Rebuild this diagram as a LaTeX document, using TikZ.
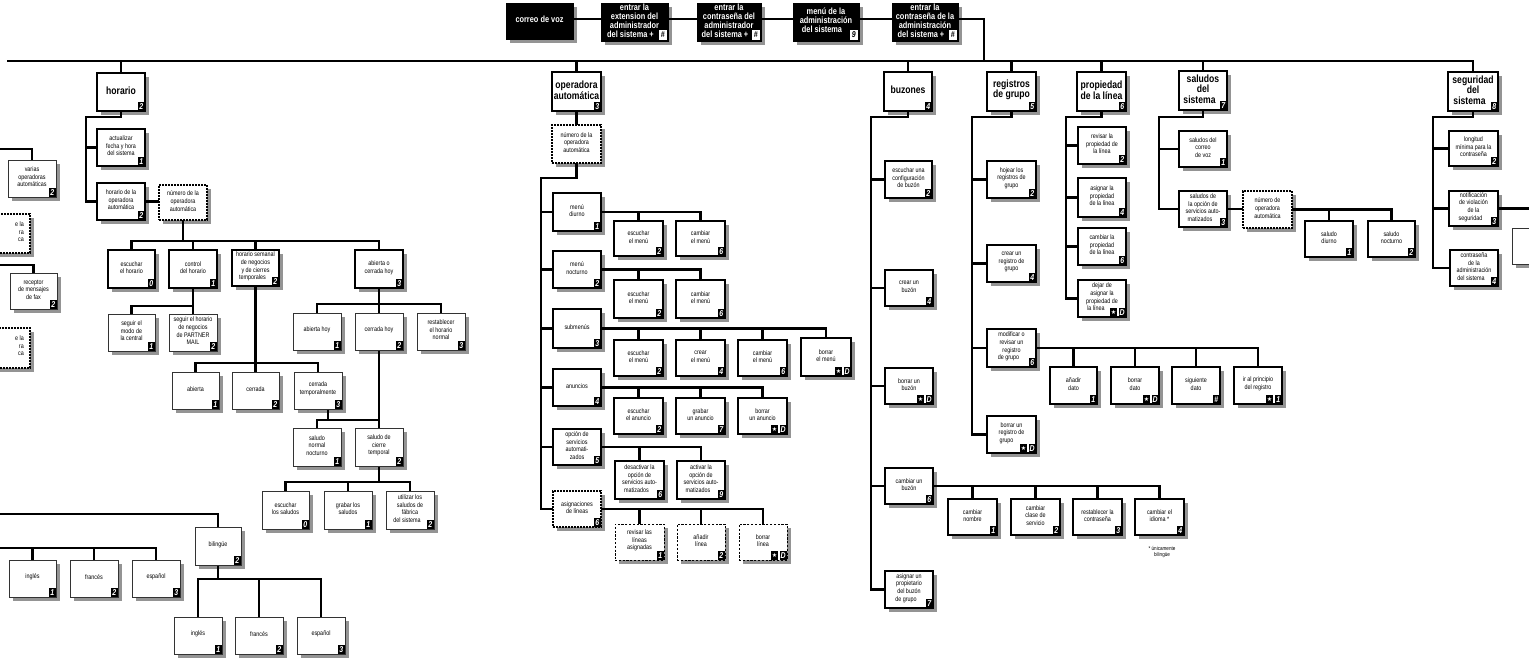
\documentclass[tikz,border=0pt]{standalone}
\usepackage{fontspec}
\setmainfont[FakeStretch=0.82]{Liberation Sans}
\newfontfamily\symf{DejaVu Sans}
\pgfdeclarelayer{bg}
\pgfdeclarelayer{shadow}
\pgfdeclarelayer{conn}
\pgfsetlayers{bg,shadow,conn,main}
\newcommand\starg{{\symf\mdseries\upshape\fontsize{6}{6}\selectfont ★}}
\tikzset{
 conn/.style={line width=2.7},
 shd/.style={fill=black!42},
 bxbase/.style={rectangle, inner sep=0, outer sep=0, fill=white},
 lvtwo/.style={bxbase, draw, line width=2.6},
 lvthree/.style={bxbase, draw, line width=2},
 lvfour/.style={bxbase, draw, line width=1.1},
 lvfive/.style={bxbase, draw=black!80, line width=0.9},
 dotk/.style={bxbase, draw, line width=1.8, dash pattern=on 1.6pt off 1.4pt},
 dthin/.style={bxbase, draw, line width=0.8, dash pattern=on 2.2pt off 1.6pt},
 topb/.style={bxbase, fill=black, draw=black, line width=1},
 tsm/.style={inner sep=0, align=center, font=\fontsize{6.6}{7.6}\selectfont},
 tl2/.style={inner sep=0, align=center, font=\bfseries\fontsize{10.5}{10.5}\selectfont},
 ttop/.style={inner sep=0, align=center, text=white, font=\bfseries\fontsize{9}{8.9}\selectfont},
 badge/.style={fill=black, text=white, inner sep=0, outer sep=0, minimum width=7.5, minimum height=9.5, font=\bfseries\itshape\fontsize{8.5}{8.5}\selectfont},
 wbadge/.style={badge, fill=white, text=black},
}
\newcommand\mkbox[9][tsm]{%
 \begin{pgfonlayer}{shadow}\fill[shd] (#4+4,#5+4) rectangle (#6+4,#7+4);\end{pgfonlayer}%
 \node[#3, minimum width={#6-(#4)}, minimum height={#7-(#5)}] (#2) at ({(#4+#6)/2},{(#5+#7)/2}) {};%
 \node[#1] (#2-t) at ([yshift=1.5]#2.center) {#8};%
 \def\curn{#2}#9}
\newcommand\bdg[1]{\node[badge,anchor=south east] (\curn-b) at (\curn.south east) {#1};}
\newcommand\bdgw[1]{\node[wbadge,anchor=south east] (\curn-b) at ([xshift=-1.5,yshift=1.5]\curn.south east) {#1};}
\newcommand\bdgg[2]{\node[badge,anchor=south east] (\curn-b) at (\curn.south east) {#2};\node[badge,anchor=south east] (\curn-a) at ([xshift=-1.3]\curn-b.south west) {#1};}
\newcommand\mytree[3]{\foreach \ch in {#3}{\draw[conn] (#1.south) |- (\ch.north |- 0,#2) -- (\ch.north);}}
\newcommand\myrow[2]{\foreach \ch in {#2}{\draw[conn] (#1.east) -| (\ch.north);}}
\newcommand\myspine[4]{\foreach \ch in {#4}{\draw[conn] (#1.south) |- (#2,#3) |- (\ch.west);}}
\begin{document}
\begin{tikzpicture}[x=1pt,y=-1pt]
\useasboundingbox (0,0) rectangle (1529,664);
\begin{pgfonlayer}{bg}\fill[white] (0,0) rectangle (1529,664);\end{pgfonlayer}
% top row
\mkbox[ttop]{T1}{topb}{506}{3}{573}{39}{correo de voz}{}
\mkbox[ttop]{T2}{topb}{601}{3}{668}{41}{entrar la\\extension del\\administrador\\del sistema +\rule{8pt}{0pt}}{\bdgw{\#}}
\mkbox[ttop]{T3}{topb}{697}{3}{761}{41}{entrar la\\contraseña del\\administrador\\del sistema +\rule{8pt}{0pt}}{\bdgw{\#}}
\mkbox[ttop]{T4}{topb}{793}{3}{859}{41}{menú de la\\administración\\del sistema\rule{8pt}{0pt}}{\bdgw{9}}
\mkbox[ttop]{T5}{topb}{892}{3}{958}{41}{entrar la\\contraseña de la\\administración\\del sistema +\rule{8pt}{0pt}}{\bdgw{\#}}
\coordinate (busJ) at (984,61);
\coordinate (busL) at (7,61);
% level 2
\mkbox[tl2]{H}{lvtwo}{97}{73}{145}{111}{horario}{\bdg{2}}
\mkbox[tl2]{OA}{lvtwo}{552}{72}{601}{111}{operadora\\automática}{\bdg{3}}
\mkbox[tl2]{BZ}{lvtwo}{884}{72}{932}{111}{buzones}{\bdg{4}}
\mkbox[tl2]{RG}{lvtwo}{987}{72}{1036}{111}{registros\\de grupo}{\bdg{5}}
\mkbox[tl2]{PL}{lvtwo}{1077}{72}{1126}{111}{propiedad\\de la línea}{\bdg{6}}
\mkbox[tl2]{SS}{lvtwo}{1179}{71}{1227}{110}{saludos\\del\\sistema\rule{7pt}{0pt}}{\bdg{7}}
\mkbox[tl2]{SG}{lvtwo}{1448}{72}{1498}{111}{seguridad\\del\\sistema\rule{7pt}{0pt}}{\bdg{8}}
% horario branch
\mkbox{H1}{lvthree}{97}{129}{145}{166}{actualizar\\fecha y hora\\del sistema}{\bdg{1}}
\mkbox{H2}{lvthree}{97}{183}{145}{220}{horario de la\\operadora\\automática}{\bdg{2}}
\mkbox{HN}{dotk}{159}{185}{207}{220}{número de la\\operadora\\automática}{}
\mkbox{C0}{lvfour}{108}{250}{155}{288}{escuchar\\el horario}{\bdg{0}}
\mkbox{C1}{lvfour}{169}{250}{217}{288}{control\\del horario}{\bdg{1}}
\mkbox{C2}{lvfour}{232}{250}{279}{286}{horario semanal\\de negocios\\y de cierres\\temporales\rule{6pt}{0pt}}{\bdg{2}}
\mkbox{C3}{lvfour}{355}{250}{403}{288}{abierta o\\cerrada hoy}{\bdg{3}}
\mkbox{C11}{lvfive}{108}{314}{155}{351}{seguir el\\modo de\\la central}{\bdg{1}}
\mkbox{C12}{lvfive}{169}{314}{217}{351}{seguir el horario\\de negocios\\de PARTNER\\MAIL}{\bdg{2}}
\mkbox{C21}{lvfive}{172}{372}{219}{409}{abierta}{\bdg{1}}
\mkbox{C22}{lvfive}{232}{372}{279}{409}{cerrada}{\bdg{2}}
\mkbox{C23}{lvfive}{294}{372}{342}{409}{cerrada\\temporalmente}{\bdg{3}}
\mkbox{C31}{lvfive}{293}{313}{341}{350}{abierta hoy}{\bdg{1}}
\mkbox{C32}{lvfive}{355}{313}{403}{350}{cerrada hoy}{\bdg{2}}
\mkbox{C33}{lvfive}{417}{313}{465}{350}{restablecer\\el horario\\normal}{\bdg{3}}
\mkbox{C321}{lvfive}{293}{428}{341}{466}{saludo\\normal\\nocturno}{\bdg{1}}
\mkbox{C322}{lvfive}{355}{428}{403}{466}{saludo de\\cierre\\temporal}{\bdg{2}}
\mkbox{C3221}{lvfive}{262}{491}{309}{529}{escuchar\\los saludos}{\bdg{0}}
\mkbox{C3222}{lvfive}{324}{491}{372}{529}{grabar los\\saludos}{\bdg{1}}
\mkbox{C3223}{lvfive}{386}{491}{434}{529}{utilizar los\\saludos de\\fábrica\\del sistema\rule{6pt}{0pt}}{\bdg{2}}
% left fragments
\mkbox{L1}{lvfive}{8}{160}{56}{197}{varias\\operadoras\\automáticas}{\bdg{2}}
\mkbox{L2}{dotk}{-18}{214}{30}{253}{}{}
\node[tsm, align=right, anchor=east] (L2-f) at (24,232) {e la\\ra\\ca};
\mkbox{L3}{lvfive}{10}{273}{57}{309}{receptor\\de mensajes\\de fax}{\bdg{2}}
\mkbox{L4}{dotk}{-18}{328}{30}{368}{}{}
\node[tsm, align=right, anchor=east] (L4-f) at (24,346) {e la\\ra\\ca};
\mkbox{BL}{lvfive}{195}{527}{241}{565}{bilingüe}{\bdg{2}}
\mkbox{BL1}{lvfive}{174}{617}{222}{654}{inglés}{\bdg{1}}
\mkbox{BL2}{lvfive}{235}{617}{283}{654}{francés}{\bdg{2}}
\mkbox{BL3}{lvfive}{297}{617}{345}{654}{español}{\bdg{3}}
\mkbox{BK1}{lvfive}{9}{560}{56}{597}{inglés}{\bdg{1}}
\mkbox{BK2}{lvfive}{70}{560}{118}{597}{francés}{\bdg{2}}
\mkbox{BK3}{lvfive}{132}{560}{180}{597}{español}{\bdg{3}}
\coordinate (L1in) at (-3,149);
\coordinate (L3in) at (-3,265);
\coordinate (BLin) at (-3,514);
\coordinate (BKin) at (-3,548);
% operadora branch
\mkbox{ON}{dotk}{552}{125}{601}{163}{número de la\\operadora\\automática}{}
\mkbox{O1}{lvthree}{553}{193}{601}{231}{menú\\diurno}{\bdg{1}}
\mkbox{O2}{lvthree}{553}{251}{601}{288}{menú\\nocturno}{\bdg{2}}
\mkbox{O3}{lvthree}{553}{309}{601}{348}{submenús}{\bdg{3}}
\mkbox{O4}{lvthree}{553}{369}{601}{406}{anuncios}{\bdg{4}}
\mkbox{O5}{lvthree}{553}{429}{601}{465}{opción de\\servicios\\automati-\\zados}{\bdg{5}}
\mkbox{O6}{dotk}{553}{491}{601}{527}{asignaciones\\de líneas}{\bdg{6}}
\mkbox{O1a}{lvfour}{614}{221}{663}{256}{escuchar\\el menú}{\bdg{2}}
\mkbox{O1b}{lvfour}{676}{221}{725}{256}{cambiar\\el menú}{\bdg{6}}
\mkbox{O2a}{lvfour}{614}{280}{663}{318}{escuchar\\el menú}{\bdg{2}}
\mkbox{O2b}{lvfour}{676}{280}{725}{318}{cambiar\\el menú}{\bdg{6}}
\mkbox{O3a}{lvfour}{614}{340}{663}{376}{escuchar\\el menú}{\bdg{2}}
\mkbox{O3b}{lvfour}{676}{340}{725}{376}{crear\\el menú}{\bdg{4}}
\mkbox{O3c}{lvfour}{738}{340}{787}{376}{cambiar\\el menú}{\bdg{6}}
\mkbox{O3d}{lvfour}{801}{338}{851}{376}{borrar\\el menú}{\bdgg{\starg}{D}}
\mkbox{O4a}{lvfour}{614}{398}{663}{434}{escuchar\\el anuncio}{\bdg{2}}
\mkbox{O4b}{lvfour}{676}{398}{725}{434}{grabar\\un anuncio}{\bdg{7}}
\mkbox{O4c}{lvfour}{738}{398}{787}{434}{borrar\\un anuncio}{\bdgg{\starg}{D}}
\mkbox{O5a}{lvfour}{615}{461}{664}{499}{desactivar la\\opción de\\servicios auto-\\matizados\rule{6pt}{0pt}}{\bdg{6}}
\mkbox{O5b}{lvfour}{677}{461}{725}{499}{activar la\\opción de\\servicios auto-\\matizados\rule{6pt}{0pt}}{\bdg{9}}
\mkbox{O6a}{dthin}{615}{524}{664}{560}{revisar las\\líneas\\asignadas}{\bdg{1}}
\mkbox{O6b}{dthin}{677}{524}{725}{560}{añadir\\línea}{\bdg{2}}
\mkbox{O6c}{dthin}{739}{524}{787}{560}{borrar\\línea}{\bdgg{\starg}{D}}
% buzones
\mkbox{B1}{lvthree}{885}{161}{932}{198}{escuchar una\\configuración\\de buzón}{\bdg{2}}
\mkbox{B2}{lvthree}{885}{270}{933}{306}{crear un\\buzón}{\bdg{4}}
\mkbox{B3}{lvthree}{885}{368}{933}{404}{borrar un\\buzón}{\bdgg{\starg}{D}}
\mkbox{B4}{lvthree}{885}{468}{933}{504}{cambiar un\\buzón}{\bdg{6}}
\mkbox{B5}{lvthree}{885}{571}{933}{608}{asignar un\\propietario\\del buzón\\de grupo\rule{6pt}{0pt}}{\bdg{7}}
\mkbox{B41}{lvfour}{948}{499}{997}{535}{cambiar\\nombre}{\bdg{1}}
\mkbox{B42}{lvfour}{1011}{499}{1060}{535}{cambiar\\clase de\\servicio}{\bdg{2}}
\mkbox{B43}{lvfour}{1073}{499}{1122}{535}{restablecer la\\contraseña}{\bdg{3}}
\mkbox{B44}{lvfour}{1135}{499}{1184}{535}{cambiar el\\idioma *}{\bdg{4}}
\node[tsm, font=\fontsize{5.6}{6.6}\selectfont] (FN) at (1162,552) {* únicamente\\bilingüe};
% registros
\mkbox{R1}{lvthree}{987}{161}{1036}{198}{hojear los\\registros de\\grupo}{\bdg{2}}
\mkbox{R2}{lvthree}{987}{245}{1036}{282}{crear un\\registro de\\grupo}{\bdg{4}}
\mkbox{R3}{lvthree}{987}{329}{1036}{367}{modificar o\\revisar un\\registro\\de grupo\rule{6pt}{0pt}}{\bdg{6}}
\mkbox{R4}{lvthree}{987}{416}{1036}{453}{borrar un\\registro de\\grupo\rule{10pt}{0pt}}{\bdgg{\starg}{D}}
\mkbox{R31}{lvfour}{1050}{367}{1097}{404}{añadir\\dato}{\bdg{1}}
\mkbox{R32}{lvfour}{1111}{367}{1159}{404}{borrar\\dato}{\bdgg{\starg}{D}}
\mkbox{R33}{lvfour}{1172}{367}{1220}{404}{siguiente\\dato}{\bdg{\#}}
\mkbox{R34}{lvfour}{1234}{367}{1282}{404}{ir al principio\\del registro}{\bdgg{\starg}{1}}
% propiedad
\mkbox{P1}{lvthree}{1078}{127}{1126}{164}{revisar la\\propiedad de\\la línea}{\bdg{2}}
\mkbox{P2}{lvthree}{1078}{178}{1126}{217}{asignar la\\propiedad\\de la línea}{\bdg{4}}
\mkbox{P3}{lvthree}{1078}{228}{1126}{265}{cambiar la\\propiedad\\de la línea}{\bdg{6}}
\mkbox{P4}{lvthree}{1078}{280}{1126}{317}{dejar de\\asignar la\\propiedad de\\la línea\rule{12pt}{0pt}}{\bdgg{\starg}{D}}
% saludos
\mkbox{S1}{lvthree}{1179}{131}{1227}{167}{saludos del\\correo\\de voz}{\bdg{1}}
\mkbox{S2}{lvthree}{1179}{191}{1227}{227}{saludos de\\la opción de\\servicios auto-\\matizados\rule{6pt}{0pt}}{\bdg{3}}
\mkbox{SN}{dotk}{1243}{191}{1292}{228}{número de\\operadora\\automática}{}
\mkbox{S21}{lvfour}{1305}{221}{1353}{257}{saludo\\diurno}{\bdg{1}}
\mkbox{S22}{lvfour}{1368}{221}{1415}{257}{saludo\\nocturno}{\bdg{2}}
% seguridad
\mkbox{G1}{lvthree}{1449}{131}{1498}{166}{longitud\\mínima para la\\contraseña}{\bdg{2}}
\mkbox{G2}{lvthree}{1449}{191}{1498}{226}{notificación\\de violación\\de la\\seguridad\rule{6pt}{0pt}}{\bdg{3}}
\mkbox{G3}{lvthree}{1450}{250}{1498}{286}{contraseña\\de la\\administración\\del sistema\rule{6pt}{0pt}}{\bdg{4}}
\mkbox{GX}{lvfive}{1512}{228}{1562}{264}{}{}
\coordinate (Gout) at (1540,0);
% connectors
\begin{pgfonlayer}{conn}
\draw[conn] (T1.east |- 0,19) -- (T2.west |- 0,19);
\draw[conn] (T2.east |- 0,19) -- (T3.west |- 0,19);
\draw[conn] (T3.east |- 0,19) -- (T4.west |- 0,19);
\draw[conn] (T4.east |- 0,19) -- (T5.west |- 0,19);
\draw[conn] (T5.east |- 0,19) -| (busJ);
\draw[conn] (busL) -| (SG.north);
\foreach \ch in {H,OA,BZ,RG,PL,SS}{\draw[conn] (\ch.north) -- (\ch.north |- busL);}
% horario
\myspine{H}{86}{117}{H1,H2}
\draw[conn] (H2.east) -- (H2.east -| HN.west);
\mytree{HN}{241}{C0,C1,C2,C3}
\mytree{C1}{306}{C11,C12}
\mytree{C2}{363}{C21,C22,C23}
\mytree{C3}{304}{C31,C32,C33}
\mytree{C32}{420}{C321,C322}
\draw[conn] (C23.south) ++(10,0) -- ++(0,11);
\mytree{C322}{482}{C3221,C3222,C3223}
\draw[conn] (L1in) -| (L1.north);
\draw[conn] (L3in) -| (L3.north);
\draw[conn] (BLin) -| (BL.north);
\foreach \ch in {BK1,BK2,BK3}{\draw[conn] (BKin) -| (\ch.north);}
\mytree{BL}{579}{BL1,BL2,BL3}
% operadora
\draw[conn] (OA.south) -- (ON.north);
\myspine{ON}{541}{178}{O1,O2,O3,O4,O5,O6}
\myrow{O1}{O1a,O1b}
\myrow{O2}{O2a,O2b}
\myrow{O3}{O3a,O3b,O3c,O3d}
\myrow{O4}{O4a,O4b,O4c}
\myrow{O5}{O5a,O5b}
\myrow{O6}{O6a,O6b,O6c}
% buzones
\myspine{BZ}{871}{117}{B1,B2,B3,B4,B5}
\myrow{B4}{B41,B42,B43,B44}
% registros
\myspine{RG}{972}{117}{R1,R2,R3,R4}
\myrow{R3}{R31,R32,R33,R34}
% propiedad
\myspine{PL}{1066}{117}{P1,P2,P3,P4}
% saludos
\myspine{SS}{1159}{117}{S1,S2}
\draw[conn] (S2.east) -- (S2.east -| SN.west);
\myrow{SN}{S21,S22}
% seguridad
\myspine{SG}{1433}{117}{G1,G2,G3}
\draw[conn] (G2.east) -- (G2.east -| Gout);
\end{pgfonlayer}
\end{tikzpicture}
\end{document}
